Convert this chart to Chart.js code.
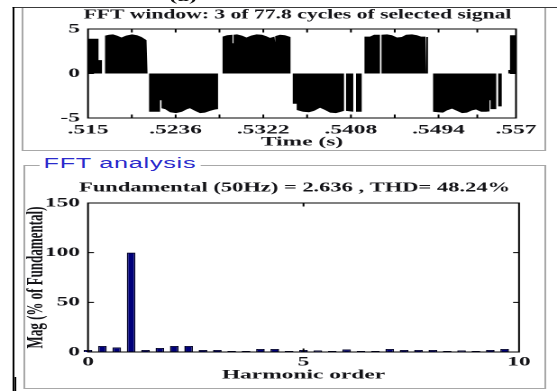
<!DOCTYPE html>
<html lang="en">
<head>
<meta charset="utf-8">
<title>FFT analysis</title>
<script src="https://cdn.jsdelivr.net/npm/chart.js@4.4.1/dist/chart.umd.min.js"></script>
<style>
  html, body { margin: 0; padding: 0; background: #fff; overflow: hidden; }
  body { width: 557px; height: 391px; position: relative; }
  /* the figure is laid out narrow and widened horizontally as a whole */
  #fig { position: absolute; left: 0; top: 0; width: 309px; height: 391px;
         transform: scaleX(1.8026); transform-origin: 0 0; overflow: hidden; }
  .abs { position: absolute; box-sizing: border-box; }
  #outerV  { left: 7.2px; top: 7px; width: 1px; height: 384px; background: #000; }
  #outerV2 { left: 8.3px; top: 377px; width: 1px; height: 14px; background: #000; }
  #outerH  { left: 7.2px; top: 7px; width: 302px; height: 1px; background: #3a3a3a; }
  #panelTop { left: 11.9px; top: 7px; width: 291.5px; height: 144px; border: 1px solid #a8a8a8; }
  #panelFft { left: 12.8px; top: 165px; width: 290.7px; height: 224px; border: 1px solid #a8a8a8; }
  #fftLegend { left: 22.2px; top: 155px; height: 17px; padding: 0 2px; background: #fff;
               color: #2b2bcc; font: 14px "Liberation Sans", Arial, sans-serif;
               letter-spacing: 0.4px; line-height: 17px; white-space: nowrap; }
  #caption { left: 94px; top: -11px; font: bold 13px "Liberation Serif", serif;
             color: #111; line-height: 16px; }
  #waveWrap { left: 0; top: 0; width: 309px; height: 150px; }
  #fftWrap  { left: 0; top: 165px; width: 309px; height: 226px; }
</style>
</head>
<body>
<div id="fig">
  <div class="abs" id="caption">(a)</div>
  <div class="abs" id="panelTop"></div>
  <div class="abs" id="panelFft"></div>
  <div class="abs" id="outerH"></div>
  <div class="abs" id="outerV"></div>
  <div class="abs" id="outerV2"></div>
  <div class="abs" id="waveWrap"><canvas id="waveChart" width="309" height="150"></canvas></div>
  <div class="abs" id="fftWrap"><canvas id="fftChart" width="309" height="226"></canvas></div>
  <div class="abs" id="fftLegend">FFT analysis</div>
</div>
<script>
// ---- selected signal window (time in s, amplitude), one line per half cycle ----
const timeSec = [
  .51500, .51603, .51603, .51637, .51637, .51667, .51667, .51706, .51745, .51785, .51829, .51873, .51932, .51981, .52025, .52074, .52084, .52084,
  .52099, .52099, .52207, .52207, .52221, .52221, .52256, .52305, .52364, .52422, .52472, .52501, .52501, .52511, .52511, .52550, .52599, .52648, .52697, .52746, .52776, .52776,
  .52820, .52820, .52864, .52918, .52918, .52928, .52928, .52962, .53011, .53055, .53100, .53154, .53207, .53247, .53286, .53330, .53330, .53340, .53340, .53384, .53433, .53487, .53487,
  .53509, .53509, .53548, .53548, .53610, .53669, .53718, .53777, .53826, .53875, .53934, .53983, .54012, .54012, .54032, .54032, .54103, .54103, .54130, .54130, .54186, .54186,
  .54213, .54213, .54267, .54307, .54365, .54365, .54380, .54380, .54434, .54483, .54532, .54578, .54621, .54679, .54729, .54768, .54812, .54812, .54822, .54822, .54836, .54836,
  .54886, .54886, .54935, .54984, .55023, .55072, .55121, .55170, .55219, .55268, .55307, .55357, .55406, .55440, .55440, .55450, .55450, .55506, .55506, .55525, .55525, .55560, .55560,
  .55624, .55624, .55641, .55641, .55700
];
const signal = [
  3.9, 3.9, 1.5, 1.5, 0, 0, 4.25, 4.35, 4.4, 4.25, 4.05, 4.25, 4.4, 4.3, 4.1, 3.75, 3.75, 0,
  0, -4.3, -4.3, -3.0, -3.0, -3.9, -4.0, -4.35, -4.45, -4.3, -4.0, -3.9, -3.3, -3.3, -3.95, -4.2, -4.45, -4.4, -4.2, -4.05, -4.0, 0,
  0, 4.15, 4.3, 4.35, 3.4, 3.4, 4.35, 4.4, 4.25, 4.05, 4.25, 4.4, 4.35, 4.2, 4.0, 4.15, 3.5, 3.5, 4.2, 4.35, 4.3, 4.1, 0,
  0, -3.4, -3.4, -4.1, -4.3, -4.35, -4.2, -3.85, -4.1, -4.4, -4.45, -4.3, -4.2, 0, 0, -4.2, -4.3, 0, 0, -4.3, -4.3, 0,
  0, 4.15, 4.15, 4.35, 4.35, 0, 0, 4.35, 4.4, 4.3, 4.05, 4.1, 4.35, 4.4, 4.3, 4.15, 4.15, 0, 0, 4.1, 4.1, 0,
  0, -4.3, -4.35, -4.4, -4.15, -3.95, -4.2, -4.45, -4.4, -4.15, -4.05, -4.3, -4.3, -4.25, -3.0, -3.0, -4.0, -4.0, 0, 0, -3.7, -3.7, 0,
  0, 0.4, 0.4, 4.3, 4.3
];

// time axis: labelled ticks with unlabelled ticks in between
const timeTicks      = [.515, .5193, .5236, .5279, .5322, .5365, .5408, .5451, .5494, .5532, .557];
const timeTickLabels = ['.515', '', '.5236', '', '.5322', '', '.5408', '', '.5494', '', '.557'];

// ---- harmonic spectrum (% of fundamental) ----
const harmonicOrder = [0, 0.3333, 0.6667, 1, 1.3333, 1.6667, 2, 2.3333, 2.6667, 3,
                       3.3333, 3.6667, 4, 4.3333, 4.6667, 5, 5.3333, 5.6667, 6, 6.3333,
                       6.6667, 7, 7.3333, 7.6667, 8, 8.3333, 8.6667, 9, 9.3333, 9.6667];
const magPercent    = [2, 6, 4.5, 100, 2, 4, 6, 6, 2, 2,
                       1, 1, 3, 3, 1, 2, 1.5, 1, 2.5, 1,
                       1, 3, 2, 2, 2, 1, 1.5, 1, 2, 3];

const waveTitle = 'FFT window: 3 of 77.8 cycles of selected signal';
const fftTitle  = 'Fundamental (50Hz) = 2.636 , THD= 48.24%';

Chart.defaults.font.family = '"Liberation Serif", "Times New Roman", Times, serif';
Chart.defaults.font.size = 13;
Chart.defaults.font.weight = 'bold';
Chart.defaults.color = '#141418';

// box around the plot area with short inward tick marks on every side
const axesFrame = {
  id: 'axesFrame',
  afterDatasetsDraw(chart) {
    const { ctx, chartArea: a, scales } = chart;
    ctx.save();
    ctx.strokeStyle = '#000';
    ctx.lineWidth = 1;
    ctx.strokeRect(a.left, a.top, a.right - a.left, a.bottom - a.top);
    ctx.beginPath();
    scales.x.ticks.forEach(t => {
      const px = scales.x.getPixelForValue(t.value);
      if (px <= a.left + 0.5 || px >= a.right - 0.5) return;
      ctx.moveTo(px, a.bottom); ctx.lineTo(px, a.bottom - 3.5);
      ctx.moveTo(px, a.top);    ctx.lineTo(px, a.top + 3.5);
    });
    scales.y.ticks.forEach(t => {
      const py = scales.y.getPixelForValue(t.value);
      if (py <= a.top + 0.5 || py >= a.bottom - 0.5) return;
      ctx.moveTo(a.left, py);  ctx.lineTo(a.left + 3.3, py);
      ctx.moveTo(a.right, py); ctx.lineTo(a.right - 3.3, py);
    });
    ctx.stroke();
    ctx.restore();
  }
};

// nudges the chart title sideways by options.plugins.titleShift.dx
const titleShift = {
  id: 'titleShift',
  afterLayout(chart, args, opts) {
    const t = chart.titleBlock;
    if (t && opts && opts.dx) { t.left += opts.dx; t.right += opts.dx; }
  }
};

const noGrid = { display: false, drawTicks: false };

new Chart(document.getElementById('waveChart'), {
  type: 'line',
  data: {
    datasets: [{
      data: timeSec.map((t, i) => ({ x: t, y: signal[i] })),
      borderColor: '#000',
      backgroundColor: '#000',
      borderWidth: 0,
      pointRadius: 0,
      tension: 0,
      fill: 'origin'
    }]
  },
  options: {
    responsive: false,
    animation: false,
    devicePixelRatio: 2,
    layout: { padding: { left: 0, right: 22.75, top: 0, bottom: 0 } },
    plugins: {
      legend: { display: false },
      tooltip: { enabled: false },
      titleShift: { dx: -2.5 },
      title: {
        display: true, text: waveTitle, fullSize: false,
        font: { size: 14, weight: 'bold' },
        padding: { top: 6.5, bottom: 5.7 }
      }
    },
    scales: {
      x: {
        type: 'linear', min: .515, max: .557,
        afterBuildTicks: s => { s.ticks = timeTicks.map(v => ({ value: v })); },
        afterFit: s => { s.height = 32; },
        ticks: {
          autoSkip: false, maxRotation: 0, padding: 4.2,
          callback: (v, i) => timeTickLabels[i]
        },
        grid: noGrid,
        border: { display: false },
        title: { display: true, text: 'Time (s)', padding: { top: 0, bottom: 0 },
                 font: { size: 13, weight: 'bold' } }
      },
      y: {
        min: -5, max: 5,
        afterFit: s => { s.width = 48.82; },
        ticks: { stepSize: 5, padding: 4.5 },
        grid: noGrid,
        border: { display: false }
      }
    }
  },
  plugins: [axesFrame, titleShift]
});

new Chart(document.getElementById('fftChart'), {
  type: 'bar',
  data: {
    datasets: [{
      data: harmonicOrder.map((h, i) => ({ x: h, y: magPercent[i] })),
      backgroundColor: '#00007a',
      borderColor: '#000024',
      borderWidth: 0.8,
      barPercentage: 0.6,
      categoryPercentage: 1,
      clip: false
    }]
  },
  options: {
    responsive: false,
    animation: false,
    devicePixelRatio: 2,
    layout: { padding: { left: 0, right: 21.08, top: 0, bottom: 0 } },
    plugins: {
      legend: { display: false },
      tooltip: { enabled: false },
      titleShift: { dx: -5 },
      title: {
        display: true, text: fftTitle, fullSize: false,
        font: { size: 13.5, weight: 'bold' },
        padding: { top: 14.9, bottom: 6.9 }
      }
    },
    scales: {
      x: {
        type: 'linear', min: 0, max: 10, offset: false,
        afterFit: s => { s.height = 39; },
        ticks: { stepSize: 5, maxRotation: 0, padding: 2.2 },
        grid: { display: false, drawTicks: false, offset: false },
        border: { display: false },
        title: { display: true, text: 'Harmonic order', padding: { top: 0, bottom: 8.2 },
                 font: { size: 13, weight: 'bold' } }
      },
      y: {
        min: 0, max: 150,
        afterFit: s => { s.width = 48.82; },
        ticks: { stepSize: 50, padding: 4.5 },
        grid: noGrid,
        border: { display: false },
        title: { display: true, text: 'Mag (% of Fundamental)', padding: { top: 12.2, bottom: 0 },
                 font: { size: 13, weight: 'bold' } }
      }
    }
  },
  plugins: [axesFrame, titleShift]
});
</script>
</body>
</html>
